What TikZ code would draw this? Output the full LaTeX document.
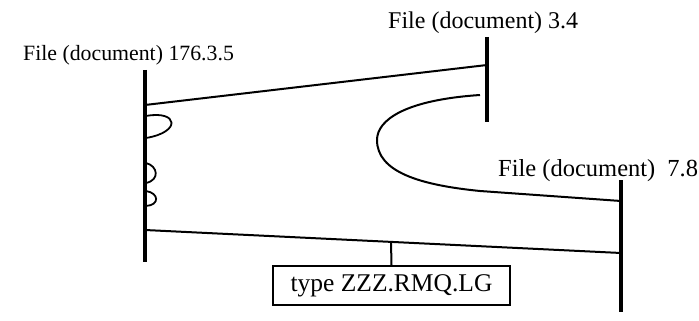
\documentclass[tikz,border=0pt]{standalone}
\usepackage{fontspec}
\setmainfont{Liberation Serif}
\tikzset{
  bar/.style={line width=4.5pt},
  conn/.style={line width=2pt},
  loopline/.style={line width=1.8pt},
  lbl/.style={anchor=base west, inner sep=0pt},
}
\begin{document}
\begin{tikzpicture}[x=1pt,y=-1pt]
\useasboundingbox (0,0) rectangle (699,321);
% labels
\node[lbl, font=\fontsize{21.8}{24}\selectfont] (lA) at (23,60) {File (document) 176.3.5};
\node[lbl, font=\fontsize{24}{26}\selectfont] (lB) at (388,29) {File (document) 3.4};
\node[lbl, font=\fontsize{24.5}{26}\selectfont] (lC) at (498,176) {File (document)\hspace{12pt}7.8};
% bars
\coordinate (a1) at (145,70); \coordinate (a2) at (145,262);
\coordinate (b1) at (487,37); \coordinate (b2) at (487,122);
\coordinate (c1) at (621,180); \coordinate (c2) at (621,312);
\draw[bar] (a1) -- (a2);
\draw[bar] (b1) -- (b2);
\draw[bar] (c1) -- (c2);
% connectors
\coordinate (aTop) at (145,105); \coordinate (bTop) at (487,65);
\draw[conn] (aTop) -- (bTop);
\coordinate (aBot) at (145,230); \coordinate (cBot) at (621,253);
\draw[conn] (aBot) -- (cBot);
\coordinate (stem) at (391,241.5);
\node[draw, line width=1.6pt, minimum width=237pt, minimum height=39pt, inner sep=0pt,
      font=\fontsize{25.5}{28}\selectfont] (box) at (391.5,285.5) {type ZZZ.RMQ.LG};
\draw[conn] (stem) -- (box.north);
% big curve
\coordinate (cs) at (480,95); \coordinate (ce) at (621,201);
\draw[conn] (cs) .. controls (405,100) and (377,120) .. (377,140)
  .. controls (377,172) and (420,185) .. (480,191) -- (ce);
% loops on left bar
\coordinate (l1s) at (146,116); \coordinate (l1e) at (146,138);
\draw[loopline] (l1s) .. controls (178,110) and (182,132) .. (l1e);
\coordinate (l2s) at (146,163); \coordinate (l2e) at (146,183);
\draw[loopline] (l2s) .. controls (158,166) and (160,180) .. (l2e);
\coordinate (l3s) at (146,191); \coordinate (l3e) at (146,206);
\draw[loopline] (l3s) .. controls (159,193) and (160,205) .. (l3e);
\end{tikzpicture}
\end{document}
